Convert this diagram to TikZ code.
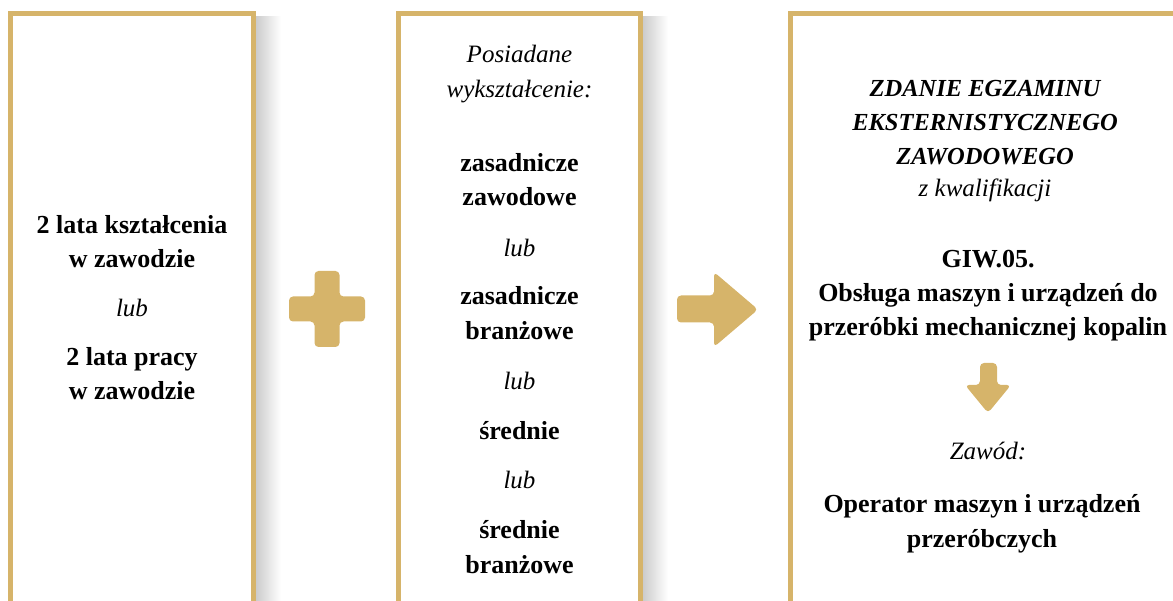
\documentclass[tikz,border=0pt]{standalone}
\usepackage{fontspec}
\setmainfont{Liberation Serif}
\definecolor{gold}{RGB}{214,180,106}
\tikzset{
  frame/.style={draw=gold, line width=5pt},
  shadowstrip/.style={left color=black!20, right color=white, draw=none},
  sym/.style={fill=gold, draw=none, rounded corners=4pt},
  bl/.style={anchor=base, inner sep=0pt, font=\fontsize{26}{30}\selectfont\bfseries},
  it/.style={anchor=base, inner sep=0pt, font=\fontsize{25}{30}\selectfont\itshape},
  bi/.style={anchor=base, inner sep=0pt, font=\fontsize{24.5}{30}\selectfont\bfseries\itshape},
}
\begin{document}
\begin{tikzpicture}[x=1pt,y=-1pt]
\useasboundingbox (0,0) rectangle (1173,601);
\clip (0,0) rectangle (1173,601);
% shadows
\shade[shadowstrip] (256,17) rectangle (281,610);
\shade[shadowstrip] (643,17) rectangle (668,610);
% frames
\draw[frame] (10.5,640) -- (10.5,13.5) -- (253.5,13.5) -- (253.5,640);
\draw[frame] (398.5,640) -- (398.5,13.5) -- (640.5,13.5) -- (640.5,640);
\draw[frame] (790.5,640) -- (790.5,13.5) -- (1200,13.5);
% plus sign
\fill[sym] (314.5,271) -- (339.5,271) -- (339.5,296.5) -- (365,296.5) -- (365,321.5)
  -- (339.5,321.5) -- (339.5,347) -- (314.5,347) -- (314.5,321.5) -- (289,321.5)
  -- (289,296.5) -- (314.5,296.5) -- cycle;
% right arrow
\fill[sym] (677,295.5) -- (714,295.5) -- (714,272) -- (758,309.5) -- (714,347)
  -- (714,322.5) -- (677,322.5) -- cycle;
% down arrow
\fill[sym] (980,363) -- (997,363) -- (997,385) -- (1011,385) -- (988,413)
  -- (965,385) -- (980,385) -- cycle;
% left box
\node[bl] (l1) at (132,234) {2 lata kształcenia};
\node[bl] (l2) at (132,268) {w zawodzie};
\node[it] (l3) at (132,317) {lub};
\node[bl] (l4) at (132,366) {2 lata pracy};
\node[bl] (l5) at (132,400) {w zawodzie};
% middle box
\node[it] (m1) at (519.5,63) {Posiadane};
\node[it] (m2) at (519.5,98) {wykształcenie:};
\node[bl] (m3) at (519.5,172) {zasadnicze};
\node[bl] (m4) at (519.5,206) {zawodowe};
\node[it] (m5) at (519.5,257) {lub};
\node[bl] (m6) at (519.5,305) {zasadnicze};
\node[bl] (m7) at (519.5,340) {branżowe};
\node[it] (m8) at (519.5,390) {lub};
\node[bl] (m9) at (519.5,440) {średnie};
\node[it] (m10) at (519.5,489) {lub};
\node[bl] (m11) at (519.5,538) {średnie};
\node[bl] (m12) at (519.5,573) {branżowe};
% right box
\node[bi] (r1) at (985,97) {ZDANIE EGZAMINU};
\node[bi] (r2) at (985,131) {EKSTERNISTYCZNEGO};
\node[bi] (r3) at (985,165) {ZAWODOWEGO};
\node[it] (r4) at (985,197) {z kwalifikacji};
\node[bl] (r5) at (988,268) {GIW.05.};
\node[bl] (r6) at (988,302) {Obsługa maszyn i urządzeń do};
\node[bl] (r7) at (988,336) {przeróbki mechanicznej kopalin};
\node[it] (r8) at (988,460) {Zawód:};
\node[bl] (r9) at (982,512) {Operator maszyn i urządzeń};
\node[bl] (r10) at (982,547) {przeróbczych};
\end{tikzpicture}
\end{document}
